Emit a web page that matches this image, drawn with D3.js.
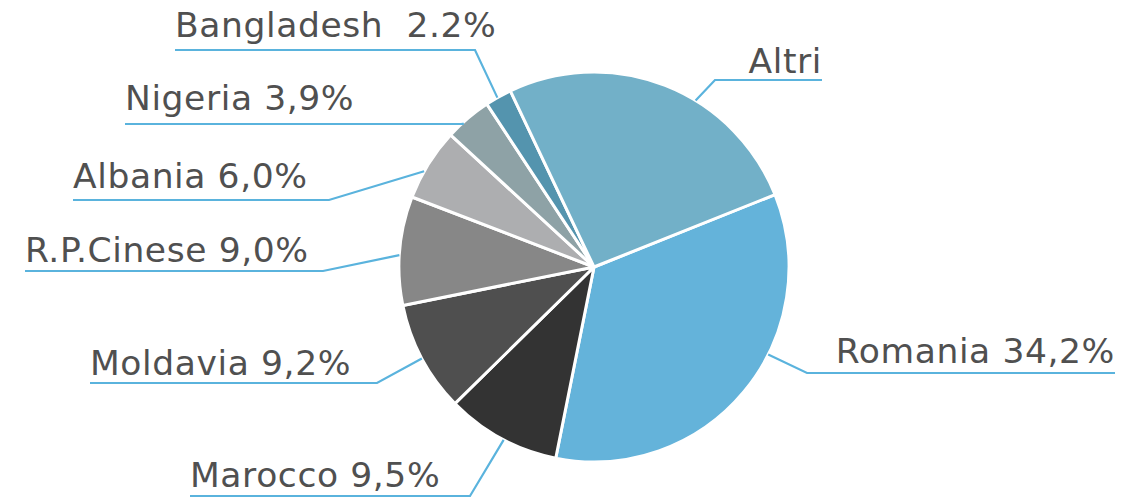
<!DOCTYPE html>
<html><head><meta charset="utf-8">
<script src="https://cdn.jsdelivr.net/npm/d3@7"></script>
<style>body{margin:0;background:#fff}svg{display:block}</style>
</head><body>
<svg id="chart" width="1141" height="498"></svg>
<script>
const categories = ["Romania","Marocco","Moldavia","R.P.Cinese","Albania","Nigeria","Bangladesh","Altri"];
const values = [34.2, 9.5, 9.2, 9.0, 6.0, 3.9, 2.2, 26.0];
const labels = ["Romania 34,2%","Marocco 9,5%","Moldavia 9,2%","R.P.Cinese 9,0%","Albania 6,0%","Nigeria 3,9%","Bangladesh  2.2%","Altri"];
const colors = ["#64b3da","#333333","#4f4f4f","#878787","#adaeb0","#8ea2a6","#5494ae","#72b0c8"];

// label layout (angles in degrees, positions in px)
const leaderAngle = [116.7, 207.6, 242, 273.5, 299.4, 317.7, 330.3, 31.4];
const elbowX = [807, 470, 377, 323, 329, null, 475, 715];
const lineY = [373, 496, 383, 271, 200, 124, 50, 80];
const lineEndX = [1115, 190, 90, 25, 73, 125, 175, 822];
const textY = [363, 487, 375, 262, 188, 110, 37, 73];
const side = ["r","l","l","l","l","l","l","r"];

const cx = 594, cy = 267, R = 195;
const toRad = d => d * Math.PI / 180;
const start = toRad(68.2);

const svg = d3.select("#chart");
const g = svg.append("g").attr("transform", `translate(${cx},${cy})`);
const pie = d3.pie().sort(null).value(d => d).startAngle(start).endAngle(start + 2 * Math.PI);
const arc = d3.arc().innerRadius(0).outerRadius(R);

g.selectAll("path.slice").data(pie(values)).join("path")
  .attr("class", "slice")
  .attr("d", arc)
  .attr("fill", (d, i) => colors[i])
  .attr("stroke", "#fff").attr("stroke-width", 3).attr("stroke-linejoin", "round");

const lines = svg.append("g");
categories.forEach((c, i) => {
  const a = toRad(leaderAngle[i]);
  const px = cx + Math.sin(a) * R, py = cy - Math.cos(a) * R;
  const ex = elbowX[i] == null ? px : elbowX[i];
  const pts = [[px, py], [ex, lineY[i]], [lineEndX[i], lineY[i]]];
  lines.append("path")
    .attr("d", d3.line()(pts))
    .attr("fill", "none").attr("stroke", "#5ab3dd").attr("stroke-width", 2.2);
  lines.append("text")
    .attr("x", lineEndX[i]).attr("y", textY[i])
    .attr("text-anchor", side[i] === "r" ? "end" : "start")
    .attr("font-family", "DejaVu Sans").attr("font-size", 34.5)
    .attr("letter-spacing", 0.6)
    .attr("fill", "#505050")
    .style("white-space", "pre")
    .text(labels[i]);
});
</script>
</body></html>
